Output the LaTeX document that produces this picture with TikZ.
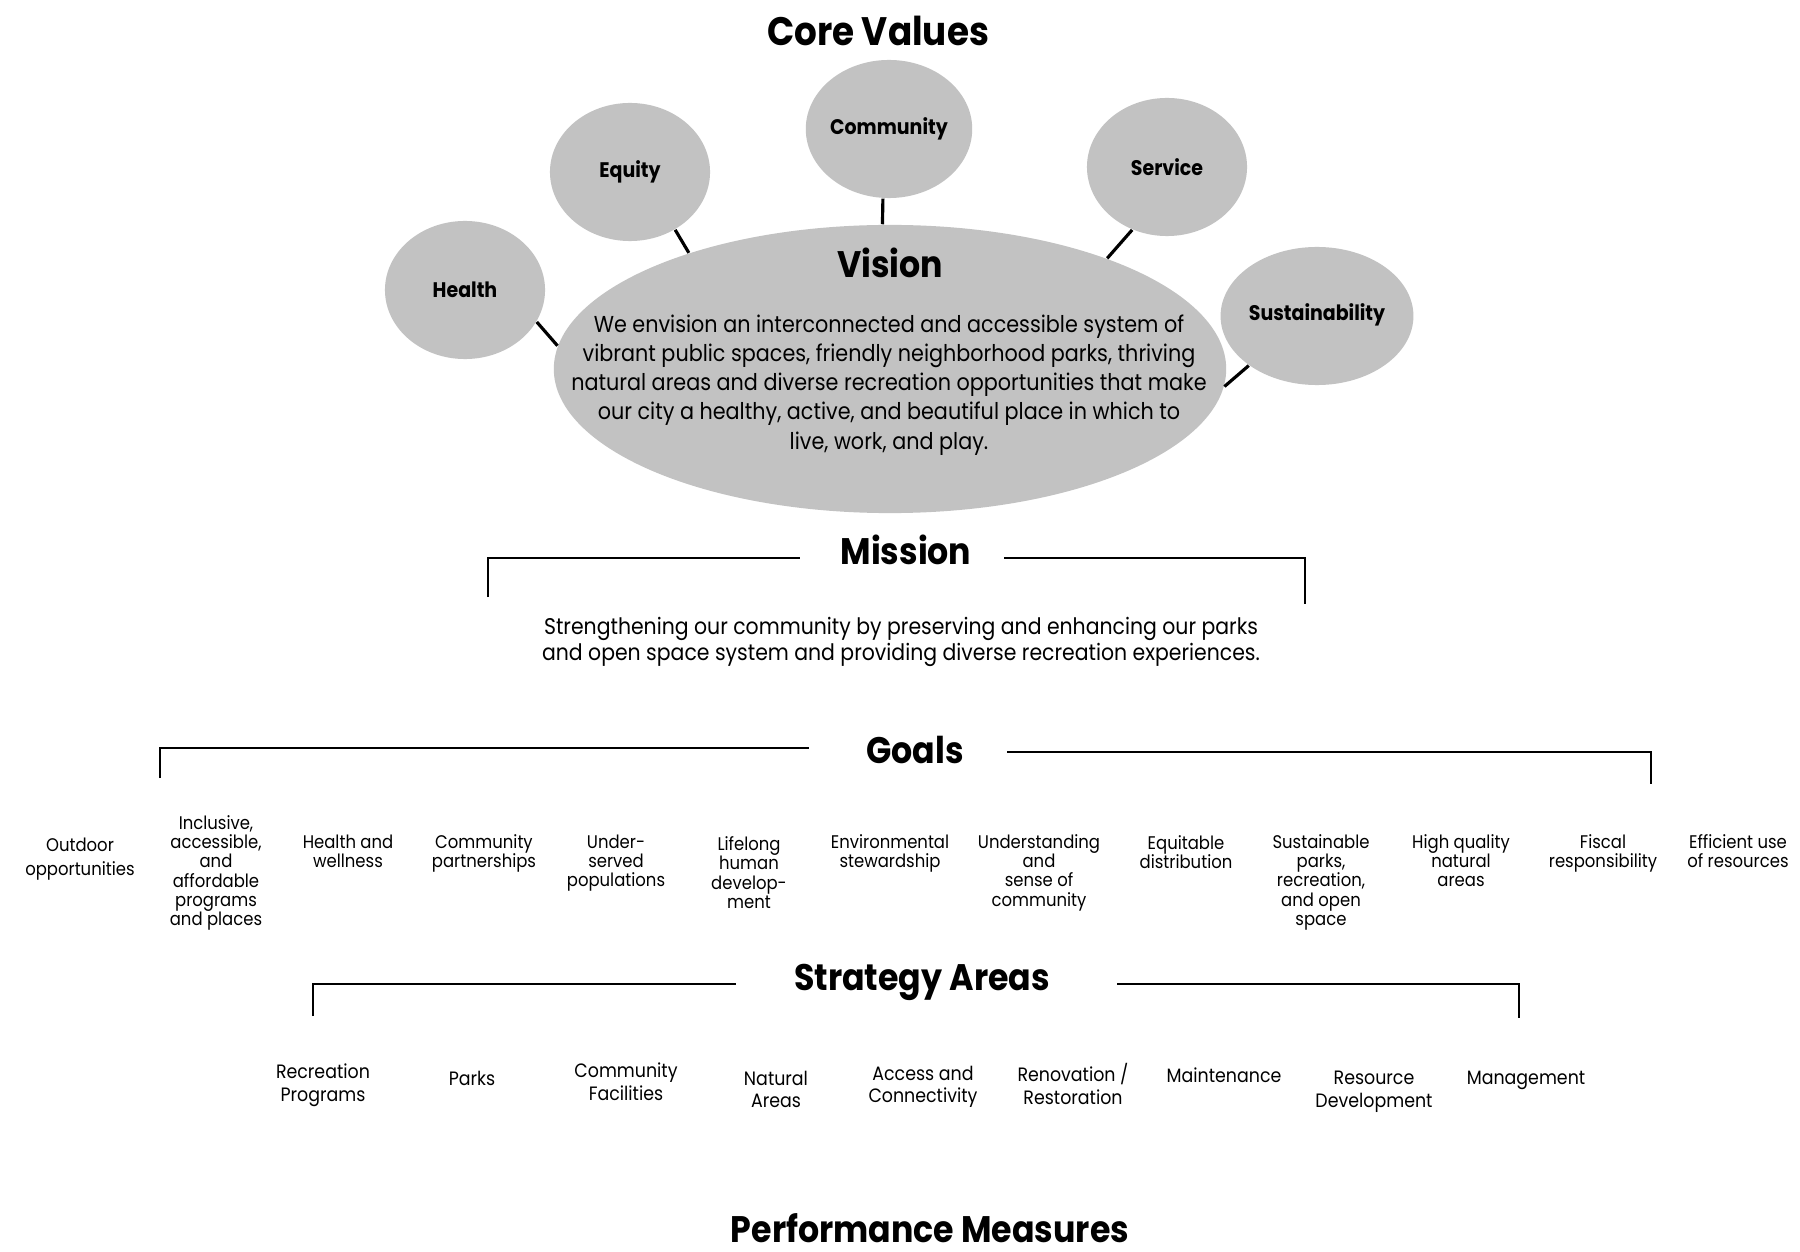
\documentclass[tikz,border=0pt]{standalone}
\usepackage{fontspec}
\setmainfont{Poppins}[FakeStretch=0.9]
\usetikzlibrary{shapes.geometric}

\tikzset{
  blob/.style={ellipse, fill=black!24, inner sep=0pt},
  valuebox/.style={blob, minimum width=1.6cm, minimum height=1.38cm,
    font=\fontsize{6}{6.5}\selectfont\bfseries},
  heading/.style={font=\fontsize{10.5}{12}\selectfont\bfseries, inner sep=0pt},
  goaltext/.style={align=center, anchor=north, inner sep=0pt,
    font=\fontsize{5.2}{5.45}\selectfont},
  areatext/.style={align=center, anchor=north, inner sep=0pt,
    font=\fontsize{5.5}{6.5}\selectfont},
  link/.style={line width=0.9pt},
  bracket/.style={line width=0.8pt}
}

\begin{document}
\begin{tikzpicture}[x=0.01cm, y=-0.01cm]
    \useasboundingbox (0,0) rectangle (1800,1252);

    % Core values
    \node[heading, font=\fontsize{11.3}{13}\selectfont\bfseries] (corevalues) at (878,31) {Core Values};

    \node[blob, minimum width=6.72cm, minimum height=2.88cm] (vision) at (890,369) {};
    \node[valuebox] (health) at (465,290) {\raisebox{-4pt}{Health}};
    \node[valuebox] (equity) at (630,172) {\raisebox{-4pt}{Equity}};
    \node[valuebox] (community) at (889,129) {Community};
    \node[valuebox] (service) at (1167,167) {\raisebox{-3pt}{Service}};
    \node[valuebox] (sustain) at (1317,316) {\raisebox{2pt}{Sustainability}};

    \draw[link] (health.-24) -- (vision.176);
    \draw[link] (equity.-52) -- (vision.150);
    \draw[link] (community.-95) -- (vision.93);
    \draw[link] (service.241) -- (vision.27);
    \draw[link] (sustain.216) -- (vision.-3);

    % Vision
    \node[heading] (visiontitle) at (890,263) {Vision};
    \node[align=center, font=\fontsize{6.55}{8.3}\selectfont] (visiontext) at (889,385)
      {We envision an interconnected and accessible system of\\
       vibrant public spaces, friendly neighborhood parks, thriving\\
       natural areas and diverse recreation opportunities that make\\
       our city a healthy, active, and beautiful place in which to\\
       live, work, and play.};

    % Mission
    \node[heading] (mission) at (906,550) {Mission};
    \draw[bracket] (488,597) -- (488,558) -- (800,558);
    \draw[bracket] (1004,558) -- (1305,558) -- (1305,604);
    \node[align=center, font=\fontsize{6.45}{7.5}\selectfont] (missiontext) at (901,642)
      {Strengthening our community by preserving and enhancing our parks\\
       and open space system and providing diverse recreation experiences.};

    % Goals
    \node[heading] (goals) at (915,750) {Goals};
    \draw[bracket] (160,778) -- (160,748) -- (809,748);
    \draw[bracket] (1007,752) -- (1651,752) -- (1651,784);

    \node[goaltext, font=\fontsize{5.2}{7}\selectfont] (g1) at (80,837) {Outdoor\\opportunities};
    \node[goaltext] (g2) at (216,815) {Inclusive,\\accessible,\\and\\affordable\\programs\\and places};
    \node[goaltext] (g3) at (348,834) {Health and\\wellness};
    \node[goaltext] (g4) at (484,834) {Community\\partnerships};
    \node[goaltext] (g5) at (616,834) {Under-\\served\\populations};
    \node[goaltext] (g6) at (749,836) {Lifelong\\human\\develop-\\ment};
    \node[goaltext] (g7) at (890,834) {Environmental\\stewardship};
    \node[goaltext] (g8) at (1039,834) {Understanding\\and\\sense of\\community};
    \node[goaltext] (g9) at (1186,835) {Equitable\\distribution};
    \node[goaltext] (g10) at (1321,834) {Sustainable\\parks,\\recreation,\\and open\\space};
    \node[goaltext] (g11) at (1461,834) {High quality\\natural\\areas};
    \node[goaltext] (g12) at (1603,834) {Fiscal\\responsibility};
    \node[goaltext] (g13) at (1738,834) {Efficient use\\of resources};

    % Strategy areas
    \node[heading] (strategy) at (922,982) {Strategy Areas};
    \draw[bracket] (313,1016) -- (313,984) -- (736,984);
    \draw[bracket] (1117,984) -- (1519,984) -- (1519,1018);

    \node[areatext] (s1) at (323,1063) {Recreation\\Programs};
    \node[areatext] (s2) at (472,1070) {Parks};
    \node[areatext] (s3) at (626,1062) {Community\\Facilities};
    \node[areatext] (s4) at (776,1070) {Natural\\Areas};
    \node[areatext] (s5) at (923,1065) {Access and\\Connectivity};
    \node[areatext] (s6) at (1073,1063) {Renovation /\\Restoration};
    \node[areatext] (s7) at (1224,1067) {Maintenance};
    \node[areatext] (s8) at (1374,1070) {Resource\\Development};
    \node[areatext] (s9) at (1526,1070) {Management};

    % Performance measures
    \node[heading] (measures) at (930,1228) {Performance Measures};
\end{tikzpicture}
\end{document}
